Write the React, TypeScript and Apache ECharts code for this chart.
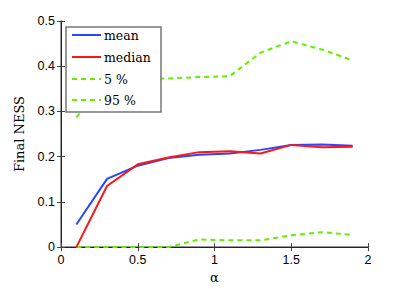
import React, { useEffect, useRef } from "react";
import * as echarts from "echarts";

const alphas = [0.1, 0.3, 0.5, 0.7, 0.9, 1.1, 1.3, 1.5, 1.7, 1.9];
const meanVals = [0.05, 0.151, 0.18, 0.197, 0.204, 0.207, 0.215, 0.226, 0.227, 0.224];
const medianVals = [0.0, 0.135, 0.183, 0.198, 0.21, 0.212, 0.207, 0.226, 0.221, 0.222];
const p5Vals = [0.0, 0.0, 0.0, 0.0, 0.017, 0.015, 0.015, 0.026, 0.033, 0.027];
const p95Vals = [0.287, 0.365, 0.37, 0.373, 0.376, 0.378, 0.43, 0.455, 0.437, 0.413];
const legendNames = ["mean", "median", "5 %", "95 %"];

const BLUE = "#2746ff";
const RED = "#ff1515";
const GREEN = "#66ee00";

export default function App() {
  const ref = useRef<HTMLDivElement>(null);
  useEffect(() => {
    const chart = echarts.init(ref.current!, null, { renderer: "svg" });
    const pair = (vals: number[]) => alphas.map((a, i) => [a, vals[i]]);
    const tickFont = { fontFamily: "Liberation Sans", fontSize: 12.5, color: "#000" };
    const grayLine = { show: true, lineStyle: { color: "#7a7a7a", width: 1.5 } };
    const darkLine = { show: true, lineStyle: { color: "#222", width: 1 } };
    const tick = { show: true, inside: true, length: 4, lineStyle: { color: "#444" } };
    const legendY = [35, 57, 79, 100];
    const legendStyles = [
      { stroke: BLUE, lineDash: null as any },
      { stroke: RED, lineDash: null as any },
      { stroke: GREEN, lineDash: [5, 4] },
      { stroke: GREEN, lineDash: [5, 4] },
    ];
    const legendGraphics: any[] = [
      {
        type: "rect",
        shape: { x: 66, y: 27, width: 95, height: 85 },
        style: { fill: "#fff", stroke: "#777", lineWidth: 1.5 },
        z: 100,
      },
    ];
    legendNames.forEach((n, i) => {
      legendGraphics.push({
        type: "line",
        shape: { x1: 72, y1: legendY[i], x2: 101, y2: legendY[i] },
        style: { stroke: legendStyles[i].stroke, lineWidth: 2, lineDash: legendStyles[i].lineDash },
        z: 101,
      });
      legendGraphics.push({
        type: "text",
        x: 104,
        y: legendY[i],
        style: {
          text: n,
          fontFamily: "DejaVu Serif",
          fontSize: 12.5,
          fill: "#000",
          verticalAlign: "middle",
        },
        z: 101,
      });
    });
    chart.setOption({
      animation: false,
      backgroundColor: "#fff",
      grid: { left: 61, right: 39, top: 21, bottom: 36, containLabel: false },
      xAxis: [
        {
          type: "value",
          min: 0,
          max: 2,
          interval: 0.5,
          axisLine: grayLine,
          axisTick: tick,
          axisLabel: { ...tickFont, margin: 6 },
          splitLine: { show: false },
          name: "α",
          nameLocation: "middle",
          nameGap: 23,
          nameTextStyle: { fontFamily: "DejaVu Serif", fontSize: 13, color: "#000" },
        },
        {
          type: "value",
          position: "top",
          min: 0,
          max: 2,
          interval: 0.5,
          axisLine: darkLine,
          axisTick: tick,
          axisLabel: { show: false },
          splitLine: { show: false },
        },
      ],
      yAxis: [
        {
          type: "value",
          min: 0,
          max: 0.5,
          interval: 0.1,
          axisLine: grayLine,
          axisTick: tick,
          axisLabel: { ...tickFont, margin: 6, formatter: (v: number) => (v === 0 ? "0" : String(+v.toFixed(1))) },
          splitLine: { show: false },
          name: "Final NESS",
          nameLocation: "middle",
          nameGap: 35,
          nameTextStyle: { fontFamily: "DejaVu Serif", fontSize: 13, color: "#000" },
        },
        {
          type: "value",
          position: "right",
          min: 0,
          max: 0.5,
          interval: 0.1,
          axisLine: darkLine,
          axisTick: tick,
          axisLabel: { show: false },
          splitLine: { show: false },
        },
      ],
      series: [
        {
          name: legendNames[0],
          type: "line",
          data: pair(meanVals),
          showSymbol: false,
          lineStyle: { color: BLUE, width: 2 },
          z: 3,
        },
        {
          name: legendNames[1],
          type: "line",
          data: pair(medianVals),
          showSymbol: false,
          lineStyle: { color: RED, width: 2 },
          z: 4,
        },
        {
          name: legendNames[2],
          type: "line",
          data: pair(p5Vals),
          showSymbol: false,
          lineStyle: { color: GREEN, width: 2, type: [5, 4] },
          z: 2,
        },
        {
          name: legendNames[3],
          type: "line",
          data: pair(p95Vals),
          showSymbol: false,
          lineStyle: { color: GREEN, width: 2, type: [5, 4] },
          z: 2,
        },
      ],
      graphic: legendGraphics,
    });
    return () => chart.dispose();
  }, []);
  return <div ref={ref} style={{ width: 407, height: 289, position: "absolute", left: 0, top: 0 }} />;
}
